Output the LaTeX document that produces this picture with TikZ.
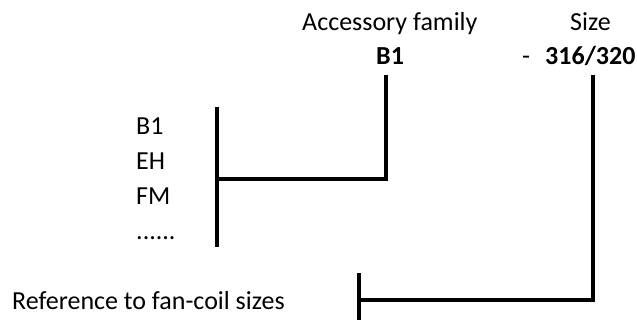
\documentclass[tikz,border=0pt]{standalone}
\usepackage{fontspec}
\setmainfont{Carlito}
\begin{document}
\begin{tikzpicture}[x=1pt,y=-1pt,
  lbl/.style={inner sep=0pt,anchor=base west,font=\fontsize{26}{31}\selectfont},
  blbl/.style={lbl,font=\fontsize{26}{31}\selectfont\bfseries},
  conn/.style={line width=3.3pt,line join=miter,black}]
\useasboundingbox (0,0) rectangle (637,320);
% texts
\node[lbl] (fam) at (302,31) {Accessory family};
\node[lbl] (size) at (570,31) {Size};
\node[blbl] (b1) at (376,65) {B1};
\node[lbl] (dash) at (522,65) {-};
\node[blbl] (sz) at (545,65) {316/320};
\node[lbl] (lb1) at (136,135) {B1};
\node[lbl] (leh) at (136,170) {EH};
\node[lbl] (lfm) at (136,205) {FM};
\node[lbl] (ldots) at (136,240) {......};
\node[lbl] (ref) at (12,309) {Reference to fan-coil sizes};
% coordinates
\coordinate (b1top) at (386,75);
\coordinate (b1corner) at (386,179);
\coordinate (bartop) at (217,107);
\coordinate (barmid) at (217,179);
\coordinate (barbot) at (217,247);
\coordinate (sztop) at (593,75);
\coordinate (szcorner) at (593,300);
\coordinate (rbartop) at (359,273);
\coordinate (rbarmid) at (359,300);
\coordinate (rbarbot) at (359,320);
% connectors
\draw[conn] (bartop) -- (barbot);
\draw[conn] (b1top) -- (b1corner) -- (barmid);
\draw[conn] (rbartop) -- (rbarbot);
\draw[conn] (sztop) -- (szcorner) -- (rbarmid);
\end{tikzpicture}
\end{document}
